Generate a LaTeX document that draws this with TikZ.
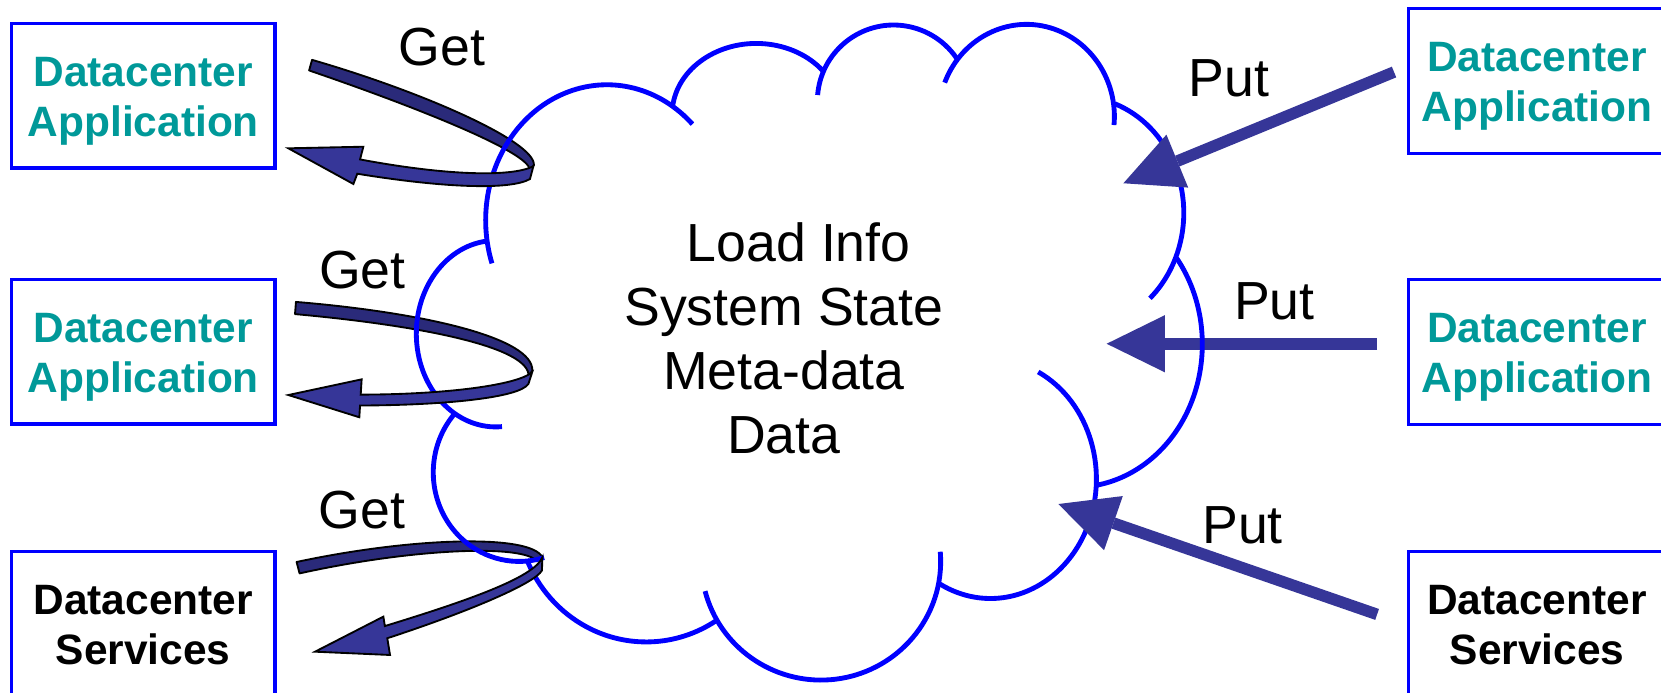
\documentclass[tikz,border=0pt]{standalone}
\usepackage{fontspec}
\setmainfont{Liberation Sans}
\usetikzlibrary{arrows.meta}
\definecolor{lineblue}{RGB}{0,0,255}
\definecolor{appteal}{RGB}{0,153,153}
\definecolor{ribbondark}{RGB}{42,42,122}
\definecolor{ribbonlight}{RGB}{54,54,152}
% one elliptic lobe of the cloud: centre x, centre y, x radius, y radius, start, end
\newcommand\cloudlobe[6]{%
  \draw[cloudline] ({#1+#3*cos(#5)},{#2+#4*sin(#5)})
    arc[start angle=#5,end angle=#6,x radius=#3,y radius=#4];}
\begin{document}
\begin{tikzpicture}[x=0.01cm,y=-0.01cm,
  cloudline/.style={draw=lineblue,line width=1.3pt},
  dcbox/.style={draw=lineblue,line width=0.85pt,minimum width=2.485cm,
    minimum height=1.365cm,inner sep=0pt},
  apptext/.style={anchor=base,inner sep=0pt,text=appteal,
    font=\fontsize{11.4}{13.5}\selectfont\bfseries},
  svctext/.style={apptext,text=black},
  wordlabel/.style={anchor=base,inner sep=0pt,font=\fontsize{14.4}{17}\selectfont},
  putarrow/.style={draw=ribbonlight,line width=3.1pt,
    -{Triangle[length=5.5mm,width=5.4mm,line width=0pt]}},
  ribbonback/.style={fill=ribbondark,draw=black,line width=0.5pt,line join=round},
  ribbonfront/.style={fill=ribbonlight,draw=black,line width=0.5pt,line join=miter}]

\useasboundingbox (0,0) rectangle (1568,654);
\clip (0,0) rectangle (1568,654);

% boxes
\node[dcbox] (appA) at (135.25,90.25) {};
\node[dcbox] (appB) at (135.25,332) {};
\node[dcbox] (svcL) at (135.25,589.25) {};
\node[dcbox,minimum width=2.42cm] (appC) at (1451,76.25) {};
\node[dcbox,minimum width=2.42cm] (appD) at (1451,332.25) {};
\node[dcbox,minimum width=2.42cm] (svcR) at (1451,589.25) {};

\node[apptext] (appA1) at (135.25,81.5) {Datacenter};
\node[apptext] (appA2) at (135.25,128.5) {Application};
\node[apptext] (appB1) at (135.25,323) {Datacenter};
\node[apptext] (appB2) at (135.25,370.5) {Application};
\node[svctext] (svcL1) at (135.25,580.5) {Datacenter};
\node[svctext] (svcL2) at (135.25,627.5) {Services};
\node[apptext] (appC1) at (1451,67.5) {Datacenter};
\node[apptext] (appC2) at (1451,114.5) {Application};
\node[apptext] (appD1) at (1451,323) {Datacenter};
\node[apptext] (appD2) at (1451,370.5) {Application};
\node[svctext] (svcR1) at (1451,580.5) {Datacenter};
\node[svctext] (svcR2) at (1451,627.5) {Services};

% Get ribbons: strands running behind the cloud outline
\path[ribbonback] (294.6,56.5) .. controls (400,87) and (506,134) .. (504,156)
  -- (500,160) .. controls (499,144) and (400,103.5) .. (291.8,66.5) -- cycle;
\path[ribbonback] (279.4,285) .. controls (400,295) and (504,319) .. (502.5,350)
  -- (499,355) .. controls (500,328) and (400,307.5) .. (278.5,296.5) -- cycle;
\path[ribbonback] (280,530.5) .. controls (390,507) and (501,504) .. (512,526)
  -- (507,530) .. controls (495,513.5) and (390,517.5) .. (282.8,541.3) -- cycle;

% middle Put arrow passes under the cloud outline
\coordinate (put2s) at (1300,324.5);
\coordinate (put2e) at (1044.7,324.5);
\draw[putarrow] (put2s) -- (put2e);

% cloud
\cloudlobe{573}{208}{114.5}{128}{161.5}{314.8}
\cloudlobe{714}{107.8}{79.5}{66.8}{185.8}{322.4}
\cloudlobe{843.6}{95.6}{72}{72}{184.7}{325.8}
\cloudlobe{969}{110}{83}{87}{201.6}{365.3}
\cloudlobe{1017.5}{201}{100}{110}{-69.5}{47.1}
\cloudlobe{1015}{325}{120}{135}{-37}{80.4}
\cloudlobe{935}{452}{100}{113}{-63.2}{119.8}
\cloudlobe{775}{530}{113}{112}{-4.7}{165.5}
\cloudlobe{610}{480}{122}{126}{57.5}{157.6}
\cloudlobe{490}{446}{81}{84}{221.5}{73}
\cloudlobe{468}{315}{75}{88}{263.4}{85.5}

% Get ribbons: returning strands with heads, in front of the cloud
\path[ribbonfront] (503.5,157) .. controls (482,167.5) and (420,165.5) .. (339.9,150.5)
  -- (343,138.5) -- (272.2,140) -- (333.6,173.7) -- (337.3,164)
  .. controls (420,177.5) and (482,179.5) .. (500.3,169) -- cycle;
\path[ribbonfront] (502.5,351) .. controls (490,363.5) and (420,372.5) .. (340.5,372.5)
  -- (341.4,358.1) -- (272.2,372.9) -- (339.2,393.9) -- (339.9,382.8)
  .. controls (420,382.5) and (490,375.5) .. (498.8,362.5) -- cycle;
\path[ribbonfront] (512,526) .. controls (505,545) and (440,567.5) .. (363.3,591)
  -- (361.9,582.1) -- (297.4,615.2) -- (368.2,618.3) -- (365.6,602.5)
  .. controls (445,576.5) and (505,550.5) .. (511.6,538.5) -- cycle;

% Put arrows over the cloud
\coordinate (put1s) at (1316,68);
\coordinate (put1e) at (1060.5,173);
\coordinate (put3s) at (1300,580);
\coordinate (put3e) at (999.1,475.8);
\draw[putarrow] (put1s) -- (put1e);
\draw[putarrow] (put3s) -- (put3e);

% labels
\node[wordlabel] (get1) at (417,61.4) {Get};
\node[wordlabel] (get2) at (342,272.5) {Get};
\node[wordlabel] (get3) at (341.5,498.7) {Get};
\node[wordlabel] (put1) at (1160,91.5) {Put};
\node[wordlabel] (put2) at (1203,302) {Put};
\node[wordlabel] (put3) at (1173,513.5) {Put};

\node[wordlabel] (info1) at (754,247) {Load Info};
\node[wordlabel] (info2) at (740,307) {System State};
\node[wordlabel] (info3) at (740,367.5) {Meta-data};
\node[wordlabel] (info4) at (740,428) {Data};
\end{tikzpicture}
\end{document}
